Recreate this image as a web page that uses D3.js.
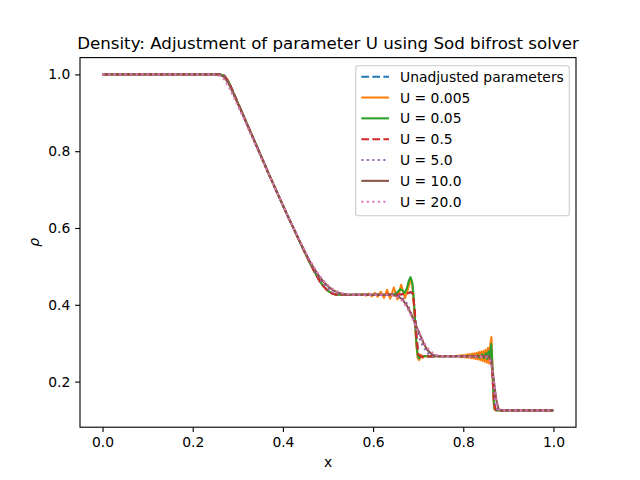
<!DOCTYPE html>
<html><head><meta charset="utf-8">
<script src="https://cdn.jsdelivr.net/npm/d3@7"></script>
<style>
body{margin:0;background:#fff}
svg{display:block}
text{font-family:"DejaVu Sans",sans-serif;fill:#000}
</style>
</head><body>
<svg id="chart" width="640" height="480"></svg>
<script>
// ---------------- data ----------------
const xTicks = [0.0, 0.2, 0.4, 0.6, 0.8, 1.0];
const yTicks = [0.2, 0.4, 0.6, 0.8, 1.0];
const seriesLabels = ["Unadjusted parameters", "U = 0.005", "U = 0.05", "U = 0.5", "U = 5.0", "U = 10.0", "U = 20.0"];

const unadjusted = [[0,1],[0.1,1],[0.2,1],[0.26,1],
 [0.27,0.997],[0.28,0.980],[0.29,0.953],[0.30,0.926],[0.31,0.899],[0.32,0.872],[0.33,0.845],[0.34,0.818],[0.35,0.791],[0.36,0.764],[0.37,0.737],[0.38,0.711],[0.39,0.685],[0.40,0.659],[0.41,0.633],[0.42,0.608],[0.43,0.583],[0.44,0.558],[0.45,0.533],[0.46,0.509],[0.47,0.486],[0.48,0.465],[0.49,0.448],[0.50,0.436],[0.51,0.429],[0.52,0.426],[0.53,0.426],
 [0.60,0.426],[0.66,0.427],[0.675,0.429],[0.683,0.433],[0.688,0.430],[0.692,0.39],[0.696,0.32],[0.700,0.272],[0.705,0.265],
 [0.75,0.266],[0.80,0.266],[0.855,0.266],[0.860,0.265],[0.863,0.250],[0.866,0.190],[0.869,0.140],[0.872,0.127],[0.876,0.125],[0.9,0.125],[1.0,0.125]];

const u0005 = [[0,1],[0.1,1],[0.2,1],[0.26,1],
 [0.27,0.997],[0.28,0.980],[0.29,0.953],[0.30,0.926],[0.31,0.899],[0.32,0.872],[0.33,0.845],[0.34,0.818],[0.35,0.791],[0.36,0.764],[0.37,0.737],[0.38,0.711],[0.39,0.685],[0.40,0.659],[0.41,0.633],[0.42,0.608],[0.43,0.583],[0.44,0.558],[0.45,0.533],[0.46,0.509],[0.47,0.486],[0.48,0.465],[0.49,0.448],[0.50,0.436],[0.51,0.429],[0.52,0.426],[0.53,0.426],
 [0.57,0.426],[0.578,0.428],[0.584,0.424],[0.591,0.429],[0.597,0.422],[0.604,0.431],[0.610,0.421],[0.617,0.434],[0.624,0.418],[0.631,0.439],[0.638,0.416],[0.646,0.445],[0.654,0.414],[0.662,0.452],[0.671,0.418],[0.677,0.440],[0.683,0.466],[0.687,0.452],[0.690,0.41],[0.693,0.35],[0.696,0.295],[0.699,0.262],[0.702,0.256],[0.706,0.270],[0.710,0.262],[0.715,0.267],[0.72,0.266],
 [0.785,0.266],[0.79,0.268],[0.7925,0.264],[0.795,0.269],[0.7975,0.263],[0.80,0.269],[0.8025,0.263],[0.805,0.270],[0.8075,0.262],[0.81,0.271],[0.8125,0.262],[0.815,0.272],[0.8175,0.261],[0.82,0.273],[0.8225,0.260],[0.825,0.274],[0.8275,0.259],[0.83,0.275],[0.8325,0.258],[0.835,0.277],[0.8375,0.256],[0.84,0.278],[0.8425,0.254],[0.845,0.280],[0.8475,0.252],[0.85,0.283],[0.8525,0.249],[0.855,0.288],[0.8575,0.247],[0.86,0.298],[0.8625,0.316],[0.865,0.22],[0.867,0.15],[0.869,0.128],[0.872,0.125],[1.0,0.125]];

const u005 = [[0,1],[0.1,1],[0.2,1],[0.26,1],
 [0.27,0.997],[0.28,0.980],[0.29,0.953],[0.30,0.926],[0.31,0.899],[0.32,0.872],[0.33,0.845],[0.34,0.818],[0.35,0.791],[0.36,0.764],[0.37,0.737],[0.38,0.711],[0.39,0.685],[0.40,0.659],[0.41,0.633],[0.42,0.608],[0.43,0.583],[0.44,0.558],[0.45,0.533],[0.46,0.509],[0.47,0.486],[0.48,0.465],[0.49,0.448],[0.50,0.436],[0.51,0.429],[0.52,0.426],[0.53,0.426],
 [0.60,0.426],[0.64,0.426],[0.648,0.428],[0.655,0.434],[0.660,0.441],[0.665,0.437],[0.670,0.431],[0.675,0.443],[0.679,0.462],[0.683,0.472],[0.687,0.458],[0.690,0.42],[0.693,0.36],[0.696,0.30],[0.699,0.268],[0.702,0.261],[0.706,0.264],[0.712,0.266],
 [0.80,0.266],[0.82,0.267],[0.826,0.264],[0.832,0.269],[0.837,0.262],[0.842,0.271],[0.846,0.261],[0.850,0.274],[0.853,0.259],[0.856,0.279],[0.859,0.262],[0.862,0.298],[0.864,0.26],[0.866,0.20],[0.868,0.145],[0.870,0.128],[0.874,0.125],[1.0,0.125]];

const u05 = [[0,1],[0.1,1],[0.2,1],[0.26,1],
 [0.27,0.997],[0.28,0.980],[0.29,0.953],[0.30,0.926],[0.31,0.899],[0.32,0.872],[0.33,0.845],[0.34,0.818],[0.35,0.791],[0.36,0.764],[0.37,0.737],[0.38,0.711],[0.39,0.685],[0.40,0.659],[0.41,0.633],[0.42,0.608],[0.43,0.583],[0.44,0.558],[0.45,0.533],[0.46,0.509],[0.47,0.486],[0.48,0.465],[0.49,0.448],[0.50,0.436],[0.51,0.429],[0.52,0.426],[0.53,0.426],
 [0.60,0.426],[0.66,0.427],[0.675,0.429],[0.683,0.433],[0.688,0.430],[0.692,0.39],[0.696,0.32],[0.700,0.272],[0.705,0.265],
 [0.75,0.266],[0.80,0.266],[0.855,0.266],[0.860,0.265],[0.863,0.250],[0.866,0.190],[0.869,0.140],[0.872,0.127],[0.876,0.125],[0.9,0.125],[1.0,0.125]];

const u5 = [[0,1],[0.1,1],[0.2,1],[0.26,1],
 [0.27,0.995],[0.28,0.977],[0.29,0.951],[0.30,0.925],[0.31,0.899],[0.32,0.872],[0.33,0.845],[0.34,0.818],[0.35,0.791],[0.36,0.764],[0.37,0.737],[0.38,0.711],[0.39,0.685],[0.40,0.659],[0.41,0.633],[0.42,0.608],[0.43,0.583],[0.44,0.558],[0.45,0.534],[0.46,0.511],[0.47,0.489],[0.48,0.470],[0.49,0.454],[0.50,0.442],[0.51,0.433],[0.52,0.429],[0.53,0.427],[0.54,0.426],
 [0.60,0.426],[0.65,0.426],[0.66,0.423],[0.67,0.413],[0.68,0.392],[0.69,0.360],[0.70,0.322],[0.71,0.293],[0.72,0.275],[0.73,0.267],[0.74,0.266],
 [0.85,0.266],[0.858,0.265],[0.862,0.255],[0.865,0.225],[0.868,0.180],[0.871,0.143],[0.874,0.128],[0.878,0.125],[1.0,0.125]];

const u10 = [[0,1],[0.1,1],[0.2,1],[0.25,1],
 [0.26,0.999],[0.27,0.993],[0.28,0.975],[0.29,0.950],[0.30,0.924],[0.31,0.899],[0.32,0.872],[0.33,0.845],[0.34,0.818],[0.35,0.791],[0.36,0.764],[0.37,0.737],[0.38,0.711],[0.39,0.685],[0.40,0.659],[0.41,0.633],[0.42,0.608],[0.43,0.583],[0.44,0.558],[0.45,0.535],[0.46,0.513],[0.47,0.493],[0.48,0.475],[0.49,0.460],[0.50,0.448],[0.51,0.439],[0.52,0.433],[0.53,0.429],[0.54,0.427],[0.55,0.426],
 [0.62,0.426],[0.645,0.425],[0.655,0.422],[0.665,0.414],[0.675,0.398],[0.685,0.374],[0.695,0.347],[0.705,0.320],[0.712,0.300],[0.72,0.283],[0.73,0.271],[0.74,0.267],[0.75,0.266],
 [0.85,0.266],[0.857,0.264],[0.862,0.252],[0.866,0.222],[0.870,0.182],[0.874,0.148],[0.878,0.130],[0.883,0.125],[1.0,0.125]];

const u20 = [[0,1],[0.1,1],[0.2,1],[0.24,1],
 [0.25,0.999],[0.26,0.996],[0.27,0.986],[0.28,0.967],[0.29,0.943],[0.30,0.918],[0.31,0.893],[0.32,0.867],[0.33,0.840],[0.34,0.814],[0.35,0.788],[0.36,0.762],[0.37,0.736],[0.38,0.710],[0.39,0.685],[0.40,0.659],[0.41,0.634],[0.42,0.609],[0.43,0.585],[0.44,0.561],[0.45,0.538],[0.46,0.516],[0.47,0.496],[0.48,0.478],[0.49,0.463],[0.50,0.451],[0.51,0.442],[0.52,0.435],[0.53,0.431],[0.54,0.428],[0.55,0.427],[0.56,0.426],
 [0.63,0.426],[0.645,0.424],[0.655,0.419],[0.665,0.410],[0.675,0.393],[0.685,0.370],[0.695,0.345],[0.705,0.320],[0.715,0.298],[0.725,0.282],[0.735,0.272],[0.745,0.267],[0.755,0.266],
 [0.85,0.265],[0.856,0.262],[0.861,0.250],[0.865,0.225],[0.869,0.190],[0.873,0.155],[0.877,0.134],[0.881,0.126],[0.886,0.125],[1.0,0.125]];

// ---------------- drawing ----------------
const PT = 100 / 72; // matplotlib points -> px at dpi 100
const m = {left: 80, right: 576, top: 57.6, bottom: 427.2};
const svg = d3.select("#chart");

const x = d3.scaleLinear().domain([-0.05, 1.05]).range([m.left, m.right]);
const y = d3.scaleLinear().domain([0.08125, 1.04375]).range([m.bottom, m.top]);

const seriesData = [unadjusted, u0005, u005, u05, u5, u10, u20];
const colors = ["#1f77b4", "#ff7f0e", "#2ca02c", "#d62728", "#9467bd", "#8c564b", "#e377c2"];
const lw = 1.5 * PT;
const dashed = `${3.7 * lw},${1.6 * lw}`;
const dotted = `${1 * lw},${1.65 * lw}`;
const dashes = [dashed, null, null, dashed, dotted, null, dotted];

svg.append("clipPath").attr("id", "clip").append("rect")
  .attr("x", m.left).attr("y", m.top).attr("width", m.right - m.left).attr("height", m.bottom - m.top);

const line = d3.line().x(d => x(d[0])).y(d => y(d[1]));
const gLines = svg.append("g").attr("clip-path", "url(#clip)");
seriesData.forEach((s, i) => {
  gLines.append("path").datum(s)
    .attr("d", line)
    .attr("fill", "none")
    .attr("stroke", colors[i])
    .attr("stroke-width", lw)
    .attr("stroke-linejoin", "round")
    .attr("stroke-dasharray", dashes[i]);
});

// axes
const fs = 10 * PT;
const xAxis = d3.axisBottom(x).tickValues(xTicks).tickFormat(d3.format(".1f")).tickSize(3.5 * PT).tickPadding(3.5 * PT);
const yAxis = d3.axisLeft(y).tickValues(yTicks).tickFormat(d3.format(".1f")).tickSize(3.5 * PT).tickPadding(3.5 * PT);
const gx = svg.append("g").attr("transform", `translate(0,${m.bottom})`).call(xAxis);
const gy = svg.append("g").attr("transform", `translate(${m.left},0)`).call(yAxis);
[gx, gy].forEach(g => {
  g.select(".domain").remove();
  g.selectAll(".tick line").attr("stroke", "#000").attr("stroke-width", 0.8 * PT);
  g.selectAll(".tick text").attr("font-family", "DejaVu Sans").attr("font-size", fs).attr("fill", "#000");
});
gx.selectAll(".tick text").attr("dy", "0.76em");

// spines
svg.append("rect").attr("x", m.left).attr("y", m.top)
  .attr("width", m.right - m.left).attr("height", m.bottom - m.top)
  .attr("fill", "none").attr("stroke", "#000").attr("stroke-width", 0.8 * PT);

// title and labels
svg.append("text").attr("x", (m.left + m.right) / 2).attr("y", 49)
  .attr("text-anchor", "middle").attr("font-size", 12 * PT)
  .text("Density: Adjustment of parameter U using Sod bifrost solver");
svg.append("text").attr("x", (m.left + m.right) / 2).attr("y", 467)
  .attr("text-anchor", "middle").attr("font-size", fs).text("x");
svg.append("text").attr("transform", `translate(39,${(m.top + m.bottom) / 2}) rotate(-90)`)
  .attr("text-anchor", "middle").attr("font-size", fs).attr("font-style", "italic").text("ρ");

// legend
const lg = svg.append("g");
lg.append("rect").attr("x", 355.7).attr("y", 65.7).attr("width", 213.6).attr("height", 150)
  .attr("rx", 2.5).attr("fill", "#fff").attr("fill-opacity", 0.8)
  .attr("stroke", "#cccccc").attr("stroke-width", 1.1);
seriesLabels.forEach((lab, i) => {
  const cy = 76.7 + i * 20.83;
  lg.append("line").attr("x1", 361.3).attr("x2", 389).attr("y1", cy).attr("y2", cy)
    .attr("stroke", colors[i]).attr("stroke-width", lw).attr("stroke-dasharray", dashes[i]);
  lg.append("text").attr("x", 400).attr("y", cy + 5).attr("font-size", fs).text(lab);
});
</script>
</body></html>
